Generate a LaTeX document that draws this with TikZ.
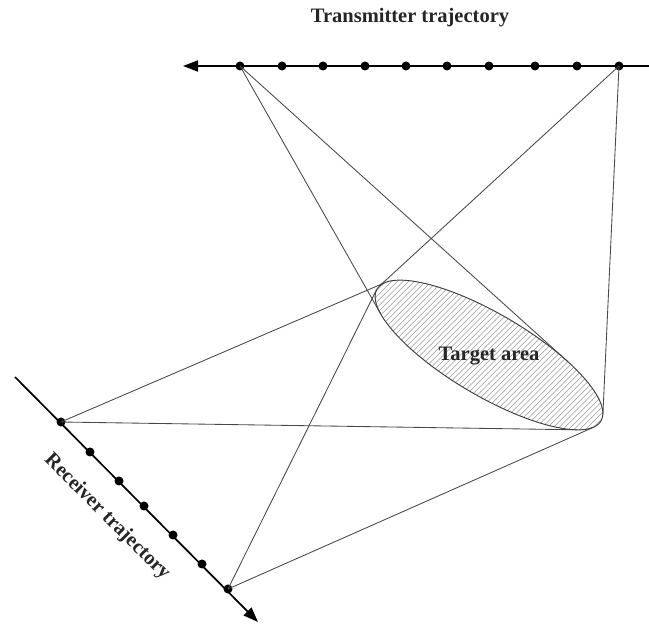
\documentclass[tikz,border=0pt]{standalone}
\usepackage{fontspec}
\setmainfont{Liberation Serif}
\usetikzlibrary{arrows.meta,shapes.geometric,calc}
\begin{document}
\begin{tikzpicture}[x=1pt,y=-1pt,
  dot/.style={circle,fill=black,inner sep=0pt,minimum size=9pt},
  traj/.style={line width=1.7pt,draw=black},
  ray/.style={line width=0.85pt,draw=black!72},
  hatch/.style={line width=0.55pt,draw=black!40},
  lbl/.style={font=\bfseries\fontsize{20.5}{24}\selectfont,text=black!85,inner sep=0pt},
  tip/.style={-{Triangle[length=15pt,width=11pt]}}]
\useasboundingbox (0,0) rectangle (649,628);
% transmitter trajectory
\coordinate (tstart) at (649,66);
\coordinate (tend) at (183,66);
\draw[traj,tip] (tstart) -- (tend);
\foreach \x [count=\i] in {240,282,323,365,406,447,489,535,577,619}
  \node[dot] (t\i) at (\x,66) {};
% receiver trajectory
\coordinate (rstart) at (15,377);
\coordinate (rend) at (258,622);
\draw[traj,tip] (rstart) -- (rend);
\foreach \x/\y [count=\i] in {61/422,90/452,119/481,144/506,173/535,202/564,228/589}
  \node[dot] (r\i) at (\x,\y) {};
% tangent points on the target ellipse
\coordinate (a1) at (380.8,314.1);
\coordinate (a2) at (567.3,361.2);
\coordinate (b1) at (379.5,286.0);
\coordinate (b2) at (602.9,414.3);
\coordinate (c1) at (384.5,282.8);
\coordinate (c2) at (576.9,429.8);
\coordinate (d1) at (376.5,289.8);
\coordinate (d2) at (593.7,427.2);
% rays
\draw[ray] (t1.center) -- (a1);
\draw[ray] (t1.center) -- (a2);
\draw[ray] (t10.center) -- (b1);
\draw[ray] (t10.center) -- (b2);
\draw[ray] (r1.center) -- (c1);
\draw[ray] (r1.center) -- (c2);
\draw[ray] (r7.center) -- (d1);
\draw[ray] (r7.center) -- (d2);
% target area hatching
\coordinate (tc) at (489,355);
\begin{scope}
  \clip[rotate around={-30.5:(tc)}] (tc) ellipse [x radius=130, y radius=41];
  \foreach \k in {-50,...,50}
    \draw[hatch] ($(tc)+(\k*5.7,0)+(-160,160)$) -- ++(320,-320);
\end{scope}
\node[ellipse,draw=black!75,line width=0.95pt,inner sep=0pt,
  minimum width=260pt,minimum height=82pt,rotate=-30.5]
  (target) at (tc) {};
\node[lbl] (tlabel) at (489,356) {Target area};
\node[lbl] (txlabel) at (410,18) {Transmitter trajectory};
\node[lbl,rotate=-45] (rxlabel) at (107,517) {Receiver trajectory};
\end{tikzpicture}
\end{document}
